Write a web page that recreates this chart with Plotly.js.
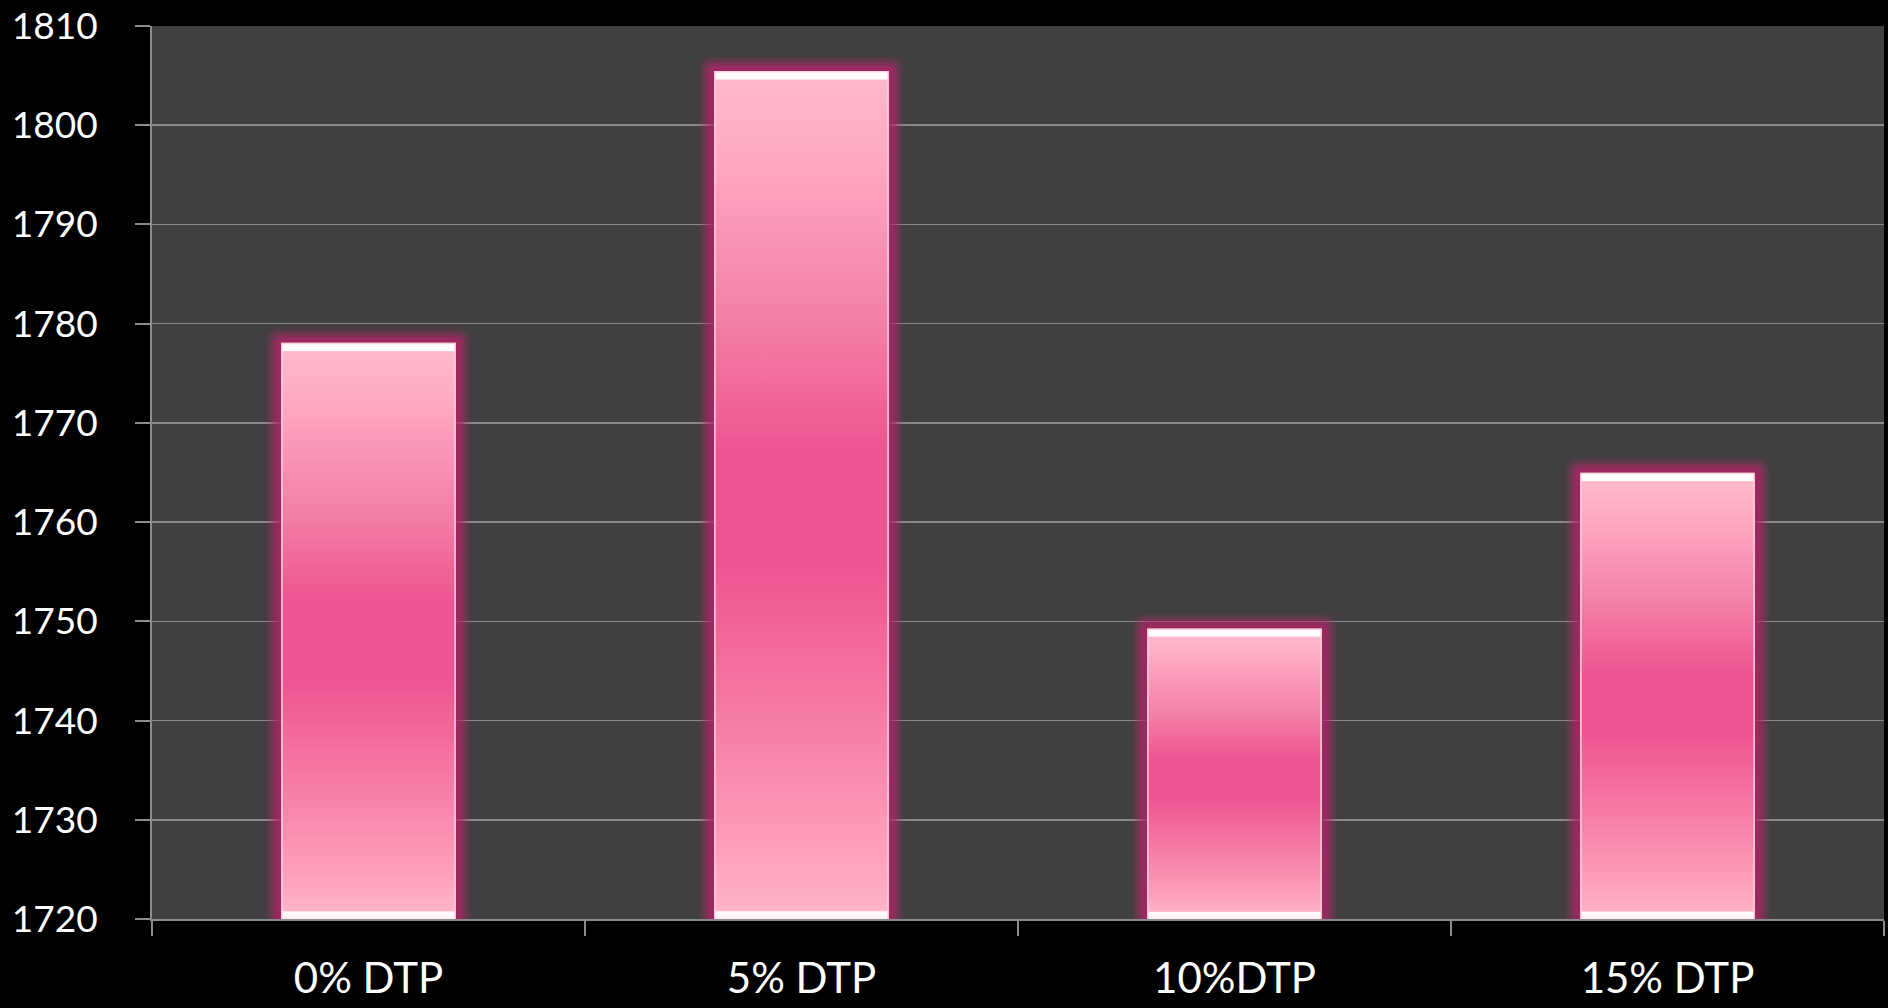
<!DOCTYPE html>
<html>
<head>
<meta charset="utf-8">
<script src="https://cdn.plot.ly/plotly-3.0.1.min.js"></script>
<style>
html,body{margin:0;padding:0;background:#000;}
#chart{width:1888px;height:1008px;}
</style>
</head>
<body>
<div id="chart"></div>
<script>
const categories = ["0% DTP", "5% DTP", "10%DTP", "15% DTP"];
const values = [1778, 1805.4, 1749.2, 1764.9];
const yTicks = [1720, 1730, 1740, 1750, 1760, 1770, 1780, 1790, 1800, 1810];

const trace = {
  type: "bar",
  x: categories,
  y: values,
  marker: { color: "#f46a9e", line: { color: "#ffd3e0", width: 1.5 } },
  hoverinfo: "skip"
};

const layout = {
  width: 1888,
  height: 1008,
  paper_bgcolor: "#000000",
  plot_bgcolor: "#404040",
  margin: { l: 152, r: 4, t: 26, b: 89 },
  bargap: 0.6,
  showlegend: false,
  font: { family: "Lato, 'Open Sans', sans-serif", color: "#ffffff" },
  xaxis: {
    type: "category",
    tickson: "boundaries",
    ticks: "outside",
    ticklen: 15,
    tickwidth: 2,
    tickcolor: "#8c8c8c",
    showline: true,
    linecolor: "#8c8c8c",
    linewidth: 2,
    showgrid: false,
    tickfont: { size: 42, color: "#ffffff" },
    ticklabelstandoff: 22
  },
  yaxis: {
    range: [1720, 1810],
    tickvals: yTicks,
    ticktext: yTicks.map(String),
    ticks: "outside",
    ticklen: 15,
    tickwidth: 2,
    tickcolor: "#8c8c8c",
    showline: true,
    linecolor: "#8c8c8c",
    linewidth: 2,
    showgrid: true,
    gridcolor: "#8a8a8a",
    gridwidth: 1.5,
    zeroline: false,
    tickfont: { size: 37, color: "#ffffff" },
    ticklabelstandoff: 30
  }
};

Plotly.newPlot("chart", [trace], layout, { staticPlot: true }).then(function (gd) {
  const svgNS = "http://www.w3.org/2000/svg";
  const svg = gd.querySelector("svg.main-svg");
  let defs = svg.querySelector("defs");
  if (!defs) { defs = document.createElementNS(svgNS, "defs"); svg.insertBefore(defs, svg.firstChild); }

  const filt = document.createElementNS(svgNS, "filter");
  filt.setAttribute("id", "barGlow");
  filt.setAttribute("filterUnits", "userSpaceOnUse");
  filt.setAttribute("x", "-50"); filt.setAttribute("y", "-50");
  filt.setAttribute("width", "1900"); filt.setAttribute("height", "1000");
  filt.innerHTML =
    '<feMorphology in="SourceAlpha" operator="dilate" radius="9" result="dil"/>' +
    '<feGaussianBlur in="dil" stdDeviation="4" result="blur"/>' +
    '<feFlood flood-color="#b8246a" flood-opacity="1" result="col"/>' +
    '<feComposite in="col" in2="blur" operator="in" result="glow"/>' +
    '<feComponentTransfer in="glow" result="glow2"><feFuncA type="linear" slope="0.8"/></feComponentTransfer>' +
    '<feMerge><feMergeNode in="glow2"/><feMergeNode in="SourceGraphic"/></feMerge>';
  defs.appendChild(filt);

  const ya = gd._fullLayout.yaxis;
  const bottomPx = ya.l2p(ya.range[0]);
  const paths = gd.querySelectorAll(".barlayer .point path");
  paths.forEach(function (p, i) {
    const bb = p.getBBox();
    const top = bb.y;
    const bot = Math.min(bb.y + bb.height, bottomPx);
    const h = bot - top;
    const g = document.createElementNS(svgNS, "linearGradient");
    g.setAttribute("id", "barGrad" + i);
    g.setAttribute("gradientUnits", "userSpaceOnUse");
    g.setAttribute("x1", 0); g.setAttribute("x2", 0);
    g.setAttribute("y1", top); g.setAttribute("y2", bot);
    const e = 7 / h;
    const stops = [
      [0, "#ffffff"], [e, "#ffffff"], [e + 0.002, "#ffb8cc"],
      [0.1, "#ffaac3"], [0.3, "#f27ea6"], [0.45, "#ee5490"],
      [0.58, "#ee5490"], [0.78, "#f680a8"], [0.92, "#ffa0bb"],
      [1 - e - 0.002, "#ffb3c8"], [1 - e, "#ffffff"], [1, "#ffeef4"]
    ];
    stops.forEach(function (s) {
      const st = document.createElementNS(svgNS, "stop");
      st.setAttribute("offset", Math.max(0, Math.min(1, s[0])));
      st.setAttribute("stop-color", s[1]);
      g.appendChild(st);
    });
    defs.appendChild(g);
    p.style.fill = "url(#barGrad" + i + ")";
    p.style.fillOpacity = 1;
    p.setAttribute("filter", "url(#barGlow)");
  });
});
</script>
</body>
</html>
